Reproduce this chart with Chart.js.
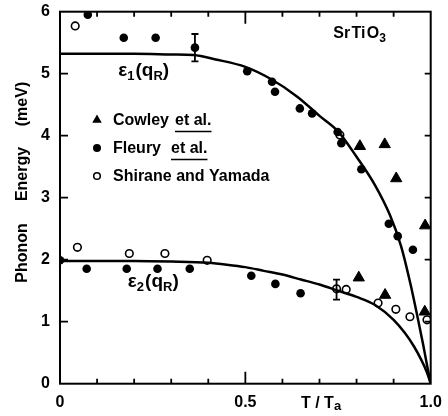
<!DOCTYPE html>
<html>
<head>
<meta charset="utf-8">
<script src="https://cdn.jsdelivr.net/npm/chart.js@4"></script>
<style>
  html, body { margin: 0; padding: 0; background: #fff; }
  canvas { display: block; }
</style>
</head>
<body>
<canvas id="chart" width="448" height="416"></canvas>
<script>
// theory curves eps1(qR), eps2(qR)
const eps1T = [0, 0.1, 0.2, 0.3, 0.36, 0.42, 0.5, 0.57, 0.64, 0.7, 0.75, 0.8, 0.85, 0.89, 0.92, 0.945, 0.965, 0.98, 0.99, 1.0];
const eps1E = [5.32, 5.32, 5.32, 5.31, 5.30, 5.23, 5.11, 4.91, 4.63, 4.32, 4.07, 3.66, 3.20, 2.72, 2.22, 1.62, 1.06, 0.62, 0.30, 0.0];
const eps2T = [0, 0.1, 0.2, 0.3, 0.4, 0.45, 0.5, 0.55, 0.6, 0.65, 0.7, 0.75, 0.8, 0.85, 0.9, 0.93, 0.955, 0.975, 0.99, 1.0];
const eps2E = [1.98, 1.98, 1.98, 1.97, 1.95, 1.92, 1.88, 1.82, 1.76, 1.68, 1.60, 1.50, 1.40, 1.27, 1.03, 0.82, 0.60, 0.38, 0.18, 0.0];

// measurements
const cowleyT = [0.809, 0.876, 0.907, 0.985, 0.806, 0.877, 0.984];
const cowleyE = [3.83, 3.86, 3.31, 2.55, 1.71, 1.43, 1.16];
const fleuryT = [0.0, 0.075, 0.172, 0.258, 0.364, 0.505, 0.572, 0.580, 0.647, 0.680, 0.749, 0.759, 0.813, 0.887, 0.911, 0.952,
                 0.072, 0.180, 0.263, 0.350, 0.516, 0.581, 0.649];
const fleuryE = [1.99, 5.95, 5.58, 5.58, 5.42, 5.04, 4.87, 4.71, 4.44, 4.36, 4.06, 3.88, 3.46, 2.58, 2.38, 2.16,
                 1.855, 1.855, 1.855, 1.855, 1.74, 1.61, 1.46];
const shiraneT = [0.041, 0.755, 0.047, 0.187, 0.283, 0.397, 0.746, 0.772, 0.858, 0.906, 0.944, 0.99];
const shiraneE = [5.77, 4.01, 2.20, 2.10, 2.10, 1.99, 1.53, 1.52, 1.30, 1.20, 1.08, 1.03];

// error bars
const errT = [0.364, 0.746];
const errLo = [5.20, 1.355];
const errHi = [5.64, 1.68];

// axes
const xTickValues = [0, 0.5, 1.0];
const xTickText = ['0', '0.5', '1.0'];
const xMinorTicks = [0.1, 0.2, 0.3, 0.4, 0.5, 0.6, 0.7, 0.8, 0.9];
const xMajorTicks = [0.5];
const yTickValues = [1, 2, 3, 4, 5];

const legendNames = ['Cowley', 'Fleury', 'Shirane and Yamada'];
const legendSuffix = ['et al.', 'et al.', ''];
const legendStyles = ['triangle', 'dot', 'open'];

const FONT = '"Liberation Sans", Arial, sans-serif';

function pts(xs, ys) {
  return xs.map((x, i) => ({ x: x, y: ys[i] }));
}

function marker(ctx, style, x, y) {
  ctx.save();
  ctx.fillStyle = '#000';
  ctx.strokeStyle = '#000';
  ctx.beginPath();
  if (style === 'triangle') {
    const r = 5.5;
    ctx.moveTo(x, y - r);
    ctx.lineTo(x + r * 0.866, y + r * 0.5);
    ctx.lineTo(x - r * 0.866, y + r * 0.5);
    ctx.closePath();
    ctx.fill();
  } else if (style === 'dot') {
    ctx.arc(x, y, 4, 0, Math.PI * 2);
    ctx.fill();
  } else {
    ctx.lineWidth = 1.5;
    ctx.arc(x, y, 3.3, 0, Math.PI * 2);
    ctx.fillStyle = '#fff';
    ctx.fill();
    ctx.stroke();
  }
  ctx.restore();
}

// eps with subscript, then (q with subscript R)
function epsLabel(ctx, sub, x, y) {
  ctx.save();
  ctx.fillStyle = '#000';
  ctx.textBaseline = 'alphabetic';
  ctx.textAlign = 'left';
  ctx.font = 'bold 19px ' + FONT;
  ctx.fillText('\u03b5', x, y);
  let cx = x + ctx.measureText('\u03b5').width;
  ctx.font = 'bold 13px ' + FONT;
  ctx.fillText(sub, cx, y + 4);
  cx += ctx.measureText(sub).width + 1;
  ctx.font = 'bold 19px ' + FONT;
  ctx.fillText('(q', cx, y);
  cx += ctx.measureText('(q').width;
  ctx.font = 'bold 13px ' + FONT;
  ctx.fillText('R', cx, y + 4);
  cx += ctx.measureText('R').width;
  ctx.font = 'bold 19px ' + FONT;
  ctx.fillText(')', cx, y);
  ctx.restore();
}

const decor = {
  id: 'decor',
  afterDatasetsDraw(chart) {
    const { ctx, chartArea: a, scales: { x, y } } = chart;
    ctx.save();
    ctx.strokeStyle = '#000';
    ctx.fillStyle = '#000';

    // error bars
    ctx.lineWidth = 1.8;
    errT.forEach((t, i) => {
      const px = x.getPixelForValue(t);
      const lo = y.getPixelForValue(errLo[i]);
      const hi = y.getPixelForValue(errHi[i]);
      ctx.beginPath();
      ctx.moveTo(px, lo); ctx.lineTo(px, hi);
      ctx.moveTo(px - 3.5, lo); ctx.lineTo(px + 3.5, lo);
      ctx.moveTo(px - 3.5, hi); ctx.lineTo(px + 3.5, hi);
      ctx.stroke();
    });

    // frame
    ctx.lineWidth = 2;
    ctx.strokeRect(a.left, a.top, a.right - a.left, a.bottom - a.top);

    // inward ticks
    ctx.lineWidth = 1.8;
    ctx.beginPath();
    xMinorTicks.forEach(v => {
      const px = x.getPixelForValue(v);
      const len = xMajorTicks.includes(v) ? 12 : 5;
      ctx.moveTo(px, a.bottom); ctx.lineTo(px, a.bottom - len);
      ctx.moveTo(px, a.top); ctx.lineTo(px, a.top + len);
    });
    yTickValues.forEach(v => {
      const py = y.getPixelForValue(v);
      ctx.moveTo(a.left, py); ctx.lineTo(a.left + 8, py);
      ctx.moveTo(a.right, py); ctx.lineTo(a.right - 6, py);
    });
    ctx.stroke();

    // curve labels
    epsLabel(ctx, '1', x.getPixelForValue(0.157), y.getPixelForValue(4.96));
    epsLabel(ctx, '2', x.getPixelForValue(0.183), y.getPixelForValue(1.56));

    // compound
    ctx.font = 'bold 16px ' + FONT;
    ctx.textAlign = 'left';
    ctx.textBaseline = 'alphabetic';
    const sx = x.getPixelForValue(0.737);
    const sy = y.getPixelForValue(5.57);
    ctx.fillText('Sr\u200aTi\u200aO', sx, sy);
    const sw = ctx.measureText('Sr\u200aTi\u200aO').width;
    ctx.font = 'bold 12px ' + FONT;
    ctx.fillText('3', sx + sw, sy + 4);

    // legend
    legendNames.forEach((name, i) => {
      const by = 125 + i * 28;
      marker(ctx, legendStyles[i], 97, by - 5);
      ctx.font = 'bold 16px ' + FONT;
      ctx.fillStyle = '#000';
      ctx.fillText(name, 113, by);
      if (legendSuffix[i]) {
        const ex = Math.max(171, 113 + ctx.measureText(name).width + 6);
        ctx.fillText(legendSuffix[i], ex, by);
        const ew = ctx.measureText(legendSuffix[i]).width;
        ctx.lineWidth = 1.4;
        ctx.beginPath();
        ctx.moveTo(ex, by + 6.5); ctx.lineTo(ex + ew, by + 6.5);
        ctx.stroke();
      }
    });

    // x title  T / Ta
    ctx.font = 'bold 16px ' + FONT;
    ctx.fillText('T / T', 301, 408);
    const tw = ctx.measureText('T / T').width;
    ctx.font = 'bold 13px ' + FONT;
    ctx.fillText('a', 301 + tw, 410);

    // y title, rotated, word by word
    ctx.font = 'bold 16px ' + FONT;
    ctx.textAlign = 'center';
    ctx.textBaseline = 'middle';
    [['Phonon', 253], ['Energy', 174], ['(meV)', 104]].forEach(([w, cy]) => {
      ctx.save();
      ctx.translate(23, cy);
      ctx.rotate(-Math.PI / 2);
      ctx.fillText(w, 0, 0);
      ctx.restore();
    });
    ctx.restore();
  }
};

const tickFont = { family: FONT, size: 16, weight: 'bold' };

new Chart(document.getElementById('chart'), {
  type: 'scatter',
  data: {
    datasets: [
      {
        type: 'line', label: 'eps1', data: pts(eps1T, eps1E),
        borderColor: '#000', borderWidth: 2.5, pointRadius: 0,
        cubicInterpolationMode: 'monotone', fill: false
      },
      {
        type: 'line', label: 'eps2', data: pts(eps2T, eps2E),
        borderColor: '#000', borderWidth: 2.5, pointRadius: 0,
        cubicInterpolationMode: 'monotone', fill: false
      },
      {
        label: 'Cowley et al.', data: pts(cowleyT, cowleyE),
        pointStyle: 'triangle', pointRadius: 6.5,
        backgroundColor: '#000', borderColor: '#000', borderWidth: 1
      },
      {
        label: 'Fleury et al.', data: pts(fleuryT, fleuryE), clip: 0,
        pointStyle: 'circle', pointRadius: 4.3,
        backgroundColor: '#000', borderColor: '#000', borderWidth: 0
      },
      {
        label: 'Shirane and Yamada', data: pts(shiraneT, shiraneE),
        pointStyle: 'circle', pointRadius: 3.8,
        backgroundColor: '#fff', borderColor: '#000', borderWidth: 1.6
      }
    ]
  },
  options: {
    responsive: false,
    animation: false,
    events: [],
    layout: { padding: { left: 0, right: 17.3, top: 11.7, bottom: 0 } },
    plugins: { legend: { display: false }, tooltip: { enabled: false } },
    scales: {
      x: {
        type: 'linear', min: 0, max: 1,
        grid: { display: false, drawTicks: false },
        border: { display: false },
        afterBuildTicks: s => { s.ticks = xTickValues.map(v => ({ value: v })); },
        afterFit: s => { s.height = 32.3; s.paddingLeft = 0; s.paddingRight = 0; },
        ticks: {
          color: '#000', font: tickFont, padding: 9, maxRotation: 0,
          callback: (v, i) => xTickText[i]
        }
      },
      y: {
        type: 'linear', min: 0, max: 6,
        grid: { display: false, drawTicks: false },
        border: { display: false },
        afterFit: s => { s.width = 60; s.paddingTop = 0; s.paddingBottom = 0; },
        ticks: { color: '#000', font: tickFont, padding: 10, stepSize: 1 }
      }
    }
  },
  plugins: [decor]
});
</script>
</body>
</html>
